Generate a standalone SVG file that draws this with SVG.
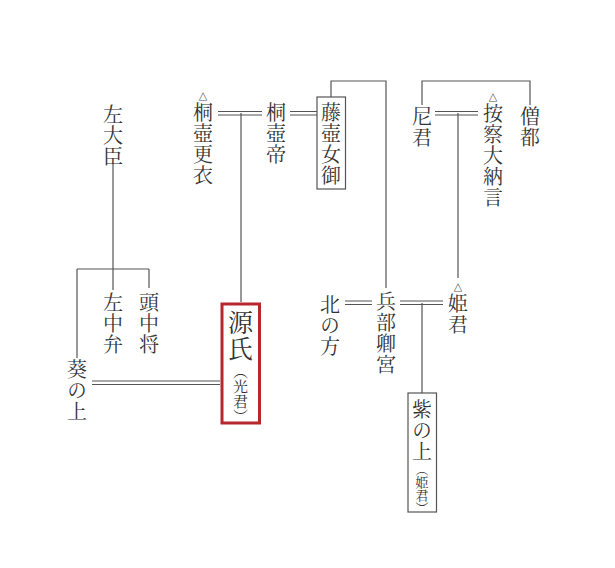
<svg xmlns="http://www.w3.org/2000/svg" width="615" height="568" viewBox="0 0 615 568">
<style>
.t{font-family:"Noto Serif CJK JP","Noto Sans CJK JP",serif;font-size:20px;fill:#333;writing-mode:vertical-rl;letter-spacing:1px}
.s{font-size:15px}
.tri{font-family:"DejaVu Sans","Noto Sans CJK JP",sans-serif;font-size:11px;fill:#555;text-anchor:middle}
.ln{stroke:#555;stroke-width:1.2;fill:none}
.box{fill:#fff;stroke:#555;stroke-width:1.2}
.red{fill:#fff;stroke:#b8262e;stroke-width:3}
</style>
<rect width="615" height="568" fill="#fff"/>
<g id="connectors">
<path class="ln" d="M113 163V290M77 269H149M77 269V358M149 269V288"/>
<path class="ln" d="M92 381H220M92 384.5H220"/>
<path class="ln" d="M218 111.5H262M218 115H262"/>
<path class="ln" d="M241 113V302"/>
<path class="ln" d="M290 111.5H317M290 115H317"/>
<path class="ln" d="M331 97V81H386V288"/>
<path class="ln" d="M422 105V81H530V105"/>
<path class="ln" d="M435 111.5H478M435 115H478"/>
<path class="ln" d="M458 113V278"/>
<path class="ln" d="M345 301H372M345 304.5H372"/>
<path class="ln" d="M400 301H443M400 304.5H443"/>
<path class="ln" d="M422 303V393"/>
</g>
<g id="n-sadaijin"><text class="t" x="113" y="104">左大臣</text></g>
<g id="n-sachuben"><text class="t" x="113" y="292">左中弁</text></g>
<g id="n-tonochujo"><text class="t" x="149" y="292">頭中将</text></g>
<g id="n-aoi"><text class="t" x="77" y="359">葵の上</text></g>
<g id="n-kiritsubokoi"><text class="tri" x="203" y="99">△</text><text class="t" x="203" y="102">桐壺更衣</text></g>
<g id="n-kiritsubotei"><text class="t" x="276" y="102">桐壺帝</text></g>
<g id="n-fujitsubo"><rect class="box" x="317" y="97" width="28.5" height="92"/><text class="t" x="331" y="102">藤壺女御</text></g>
<g id="n-genji"><rect class="red" x="222" y="304" width="37.5" height="119"/><text class="t" x="240.5" y="310" style="font-size:25px">源氏</text><text class="t s" x="240.5" y="364" style="letter-spacing:0">（光君）</text></g>
<g id="n-amagimi"><text class="t" x="422" y="106">尼君</text></g>
<g id="n-sozu"><text class="t" x="530" y="106">僧都</text></g>
<g id="n-azechi"><text class="tri" x="493" y="100">△</text><text class="t" x="493" y="103">按察大納言</text></g>
<g id="n-kitanokata"><text class="t" x="330" y="294">北の方</text></g>
<g id="n-hyobukyo"><text class="t" x="386" y="291">兵部卿宮</text></g>
<g id="n-himegimi"><text class="tri" x="458" y="290">△</text><text class="t" x="458" y="293">姫君</text></g>
<g id="n-murasaki"><rect class="box" x="408" y="393" width="28.5" height="119"/><text class="t" x="422" y="399">紫の上</text><text class="t s" x="422" y="463" style="font-size:13px;letter-spacing:0">（姫君）</text></g>
</svg>
